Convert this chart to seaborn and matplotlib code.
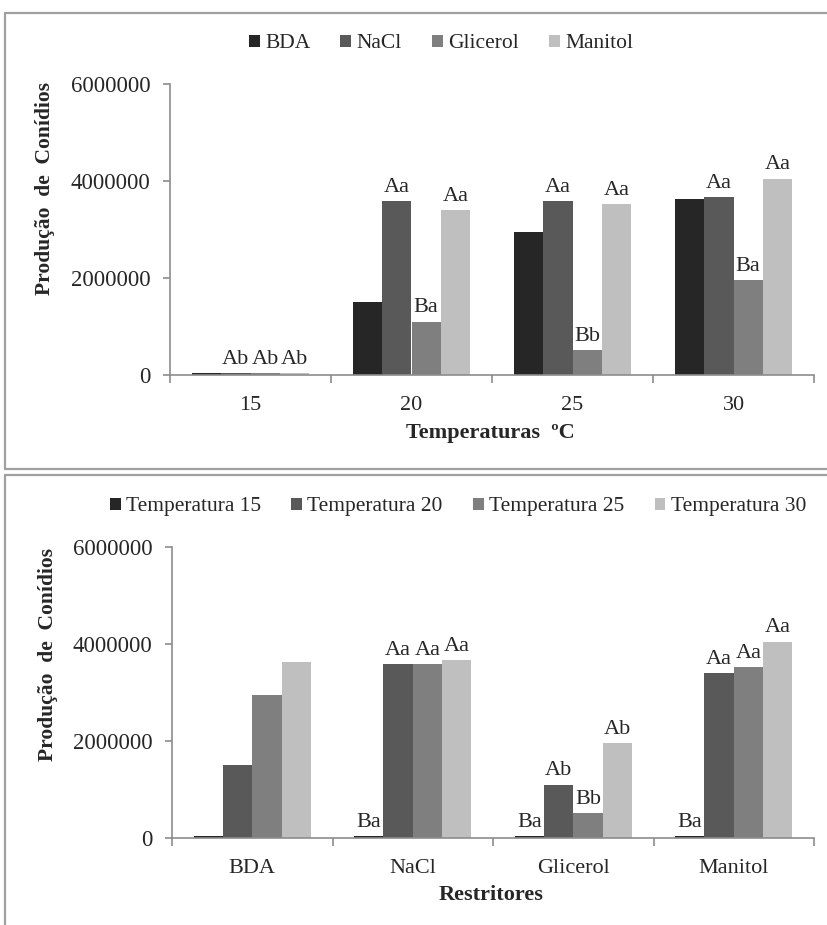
import matplotlib
matplotlib.use("Agg")
import matplotlib.pyplot as plt
from matplotlib.patches import Patch
from matplotlib.lines import Line2D
from matplotlib.ticker import FixedLocator
import seaborn as sns
import pandas as pd

# Conidia production by temperature (°C) and restrictor
temperaturas = ["15", "20", "25", "30"]
restritores = ["BDA", "NaCl", "Glicerol", "Manitol"]

bda = [40000, 1500000, 2940000, 3620000]
nacl = [40000, 3590000, 3590000, 3660000]
glicerol = [40000, 1100000, 520000, 1950000]
manitol = [40000, 3400000, 3530000, 4050000]

# significance letters, per restrictor across temperatures (upper chart)
letras_temp = {
    "BDA": ["", "", "", ""],
    "NaCl": ["Ab", "Aa", "Aa", "Aa"],
    "Glicerol": ["Ab", "Ba", "Bb", "Ba"],
    "Manitol": ["Ab", "Aa", "Aa", "Aa"],
}
# significance letters, per temperature across restrictors (lower chart)
letras_restr = {
    "Temperatura 15": ["", "Ba", "Ba", "Ba"],
    "Temperatura 20": ["", "Aa", "Ab", "Aa"],
    "Temperatura 25": ["", "Aa", "Bb", "Aa"],
    "Temperatura 30": ["", "Aa", "Ab", "Aa"],
}

cores = ["#262626", "#595959", "#7f7f7f", "#bfbfbf"]
yticks = [0, 2000000, 4000000, 6000000]

series = {"BDA": bda, "NaCl": nacl, "Glicerol": glicerol, "Manitol": manitol}
rows = []
for r, vals in series.items():
    for t, v in zip(temperaturas, vals):
        rows.append({"Temperatura": t, "Restritor": r, "Valor": v,
                     "TempLab": "Temperatura " + t})
df = pd.DataFrame(rows)

sns.set_theme(style="white")
plt.rcParams["font.family"] = ["Liberation Serif", "DejaVu Serif"]

W, H = 827, 925
fig = plt.figure(figsize=(W / 100, H / 100), dpi=100)


def ax_rect(left, right, top, bottom):
    return [left / W, 1 - bottom / H, (right - left) / W, (bottom - top) / H]


def style_axes(ax, xlabel, ylabel_y, xlabel_y):
    ax.set_ylim(0, 6000000)
    ax.set_xlim(-0.5, 3.5)
    ax.set_yticks(yticks)
    ax.set_yticklabels([str(v) for v in yticks], fontsize=16.5)
    for s in ["top", "right"]:
        ax.spines[s].set_visible(False)
    for s in ["left", "bottom"]:
        ax.spines[s].set_color("#8c8c8c")
        ax.spines[s].set_linewidth(1.2)
    ax.tick_params(axis="y", which="major", length=5, width=1.2,
                   color="#8c8c8c", pad=9, left=True)
    ax.tick_params(axis="x", which="major", length=0, pad=15, labelsize=16)
    ax.xaxis.set_minor_locator(FixedLocator([-0.5, 0.5, 1.5, 2.5, 3.5]))
    ax.tick_params(axis="x", which="minor", length=6, width=1.2,
                   color="#8c8c8c", bottom=True, direction="out")
    ax.set_ylabel("Produção  de  Conídios", fontsize=15.5, fontweight="bold")
    ax.yaxis.set_label_coords(-0.178, ylabel_y)
    ax.set_xlabel(xlabel, fontsize=16, fontweight="bold")
    ax.xaxis.set_label_coords(0.497, xlabel_y)
    ax.grid(False)


def add_letters(ax, letras):
    for cont, key in zip(ax.containers, letras):
        ax.bar_label(cont, labels=letras[key], padding=3, fontsize=16)


# upper chart: bars grouped by temperature, hue = restrictor
ax1 = fig.add_axes(ax_rect(170, 814, 84, 375))
sns.barplot(data=df, x="Temperatura", y="Valor", hue="Restritor",
            order=temperaturas, hue_order=restritores, palette=cores,
            width=0.73, gap=0, errorbar=None, saturation=1,
            linewidth=0, ax=ax1, legend=False)
add_letters(ax1, letras_temp)
style_axes(ax1, "Temperaturas  ºC", 0.64, -0.165)

# lower chart: bars grouped by restrictor, hue = temperature
temp_labels = ["Temperatura " + t for t in temperaturas]
ax2 = fig.add_axes(ax_rect(172, 814, 547, 838))
sns.barplot(data=df, x="Restritor", y="Valor", hue="TempLab",
            order=restritores, hue_order=temp_labels, palette=cores,
            width=0.73, gap=0, errorbar=None, saturation=1,
            linewidth=0, ax=ax2, legend=False)
add_letters(ax2, letras_restr)
style_axes(ax2, "Restritores", 0.63, -0.16)

# legends
h1 = [Patch(facecolor=c, edgecolor="none") for c in cores]
fig.legend(h1, restritores, loc="center", bbox_to_anchor=(441 / W, 1 - 44 / H),
           ncol=4, frameon=False, fontsize=15.5, handlelength=0.5,
           handleheight=0.5, handletextpad=0.25, columnspacing=1.4)
fig.legend(h1, temp_labels, loc="center", bbox_to_anchor=(458 / W, 1 - 507 / H),
           ncol=4, frameon=False, fontsize=15.5, handlelength=0.5,
           handleheight=0.5, handletextpad=0.25, columnspacing=1.4)

# panel frames
frame = dict(color="#a0a0a0", linewidth=1.6, transform=fig.transFigure)
fig.add_artist(Line2D([5 / W, 5 / W], [1 - 13 / H, 1 - 469 / H], **frame))
fig.add_artist(Line2D([5 / W, 1.0], [1 - 13 / H, 1 - 13 / H], **frame))
fig.add_artist(Line2D([5 / W, 1.0], [1 - 469 / H, 1 - 469 / H], **frame))
fig.add_artist(Line2D([5 / W, 5 / W], [1 - 475 / H, 0.0], **frame))
fig.add_artist(Line2D([5 / W, 1.0], [1 - 475 / H, 1 - 475 / H], **frame))

fig.savefig("out.png", dpi=100, facecolor="white")
